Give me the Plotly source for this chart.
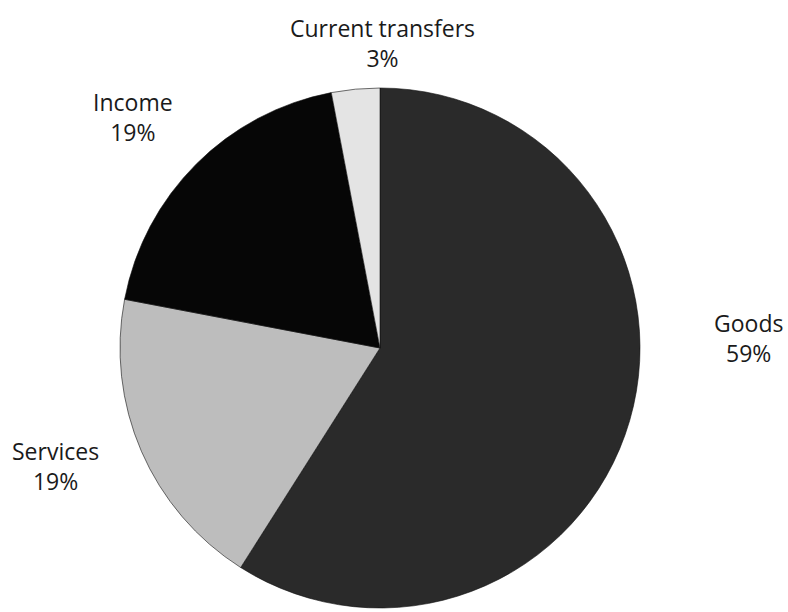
import plotly.graph_objects as go

labels = ["Goods", "Services", "Income", "Current transfers"]
values = [59, 19, 19, 3]
colors = ["#2a2a2a", "#bdbdbd", "#060606", "#e4e4e4"]

W, H = 788, 612

# label centres in reference pixels, placed outside the pie like the original
label_px = {
    "Goods": (748, 338),
    "Services": (55, 466),
    "Income": (133, 117),
    "Current transfers": (382, 43),
}

fig = go.Figure(go.Pie(
    labels=labels, values=values, sort=False, direction="clockwise", rotation=0,
    marker={"colors": colors, "line": {"color": "#111111", "width": 0.6}},
    textinfo="none", hoverinfo="label+percent", showlegend=False,
    domain={"x": [120 / W, 640 / W], "y": [(H - 608) / H, (H - 88) / H]},
))

for lab, val in zip(labels, values):
    px, py = label_px[lab]
    fig.add_annotation(
        x=px / W, y=1 - py / H, xref="paper", yref="paper",
        xanchor="center", yanchor="middle", showarrow=False,
        text=f"{lab}<br>{val}%", align="center",
        font={"family": "Open Sans, sans-serif", "size": 23, "color": "#1a1a1a"},
    )

fig.update_layout(
    width=W, height=H,
    margin={"l": 0, "r": 0, "t": 0, "b": 0},
    paper_bgcolor="#ffffff", plot_bgcolor="#ffffff",
)
# drop the default page margin so the figure sits at the window origin
fig.write_html("out.html", config={"displayModeBar": False},
               post_script="document.body.style.margin='0';")
